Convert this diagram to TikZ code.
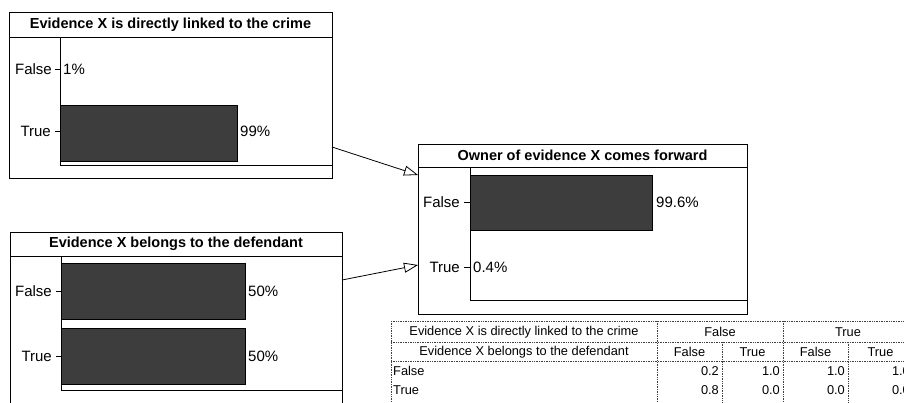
\documentclass[tikz,border=0pt]{standalone}
\usepackage{fontspec}
\setmainfont{Liberation Sans}
\usetikzlibrary{arrows.meta}
\tikzset{
  box/.style={draw=black, line width=0.9pt, minimum width=#1, inner sep=0pt, fill=white},
  ttl/.style={font=\fontsize{14.5}{17}\selectfont\bfseries, inner sep=0pt},
  lab/.style={font=\fontsize{15}{18}\selectfont, inner sep=0pt},
  axis/.style={draw=black, line width=0.9pt},
  bar/.style={fill=black!76, draw=black, line width=0.6pt},
  conn/.style={draw=black, line width=0.8pt, -{Triangle[open,length=14pt,width=10pt]}},
  tab/.style={font=\fontsize{12.8}{15}\selectfont, inner sep=0pt},
  grid/.style={draw=black!75, line width=0.7pt, densely dotted},
}
\begin{document}
\begin{tikzpicture}[x=1pt,y=-1pt]
\clip (0,0) rectangle (904,402);
\fill[white] (0,0) rectangle (904,402);

% ---------- Box 1 ----------
\node[box=323pt, minimum height=166pt, anchor=north west] (b1) at (9,12) {};
\draw[axis] (9,37) -- (332,37);
\node[ttl] (t1) at (170.5,24.5) {Evidence X is directly linked to the crime};
\draw[bar] (60,105) rectangle (237,161);
\draw[axis] (60,37) -- (60,165) -- (332,165);
\node[lab, anchor=east] (b1f) at (52,69) {False};
\draw[axis] (55,69) -- (60,69);
\node[lab, anchor=east] (b1t) at (51,131) {True};
\draw[axis] (55,131) -- (60,131);
\node[lab, anchor=west] (b1fp) at (63,69) {1\%};
\node[lab, anchor=west] (b1tp) at (240,131) {99\%};

% ---------- Box 2 ----------
\node[box=332pt, minimum height=200pt, anchor=north west] (b2) at (10,232) {};
\draw[axis] (10,256) -- (342,256);
\node[ttl] (t2) at (176,244) {Evidence X belongs to the defendant};
\draw[bar] (61,263) rectangle (245,319);
\draw[bar] (61,328) rectangle (245,384);
\draw[axis] (61,256) -- (61,390) -- (342,390);
\node[lab, anchor=east] (b2f) at (52,291) {False};
\draw[axis] (56,291) -- (61,291);
\node[lab, anchor=east] (b2t) at (52,356) {True};
\draw[axis] (56,356) -- (61,356);
\node[lab, anchor=west] (b2fp) at (248,291) {50\%};
\node[lab, anchor=west] (b2tp) at (248,356) {50\%};

% ---------- Box 3 ----------
\node[box=329pt, minimum height=170pt, anchor=north west] (b3) at (418,144) {};
\draw[axis] (418,167.5) -- (747,167.5);
\node[ttl] (t3) at (582.5,155.5) {Owner of evidence X comes forward};
\draw[bar] (470,175) rectangle (652,230);
\draw[axis] (470,167.5) -- (470,300) -- (747,300);
\node[lab, anchor=east] (b3f) at (460,202) {False};
\draw[axis] (464,202) -- (470,202);
\node[lab, anchor=east] (b3t) at (460,267) {True};
\draw[axis] (464,267) -- (470,267);
\node[lab, anchor=west] (b3fp) at (656,202) {99.6\%};
\node[lab, anchor=west] (b3tp) at (473,267) {0.4\%};

% ---------- Connectors ----------
\coordinate (a1s) at (332,147);
\coordinate (a1e) at (418,175);
\coordinate (a2s) at (342,280);
\coordinate (a2e) at (418,265);
\draw[conn] (a1s) -- (a1e);
\draw[conn] (a2s) -- (a2e);

% ---------- Table ----------
\draw[grid] (391,321) -- (913,321);
\draw[grid] (391,342) -- (913,342);
\draw[grid] (391,361) -- (913,361);
\draw[grid] (391,321) -- (391,402);
\draw[grid] (657,321) -- (657,402);
\draw[grid] (783,321) -- (783,402);
\draw[grid] (722,342) -- (722,402);
\draw[grid] (848,342) -- (848,402);
\node[tab] (h1) at (524,332) {Evidence X is directly linked to the crime};
\node[tab] (h2) at (524,352) {Evidence X belongs to the defendant};
\node[tab] (gF) at (720,332) {False};
\node[tab] (gT) at (848,332) {True};
\node[tab] (sF1) at (689.5,352) {False};
\node[tab] (sT1) at (752.5,352) {True};
\node[tab] (sF2) at (815.5,352) {False};
\node[tab] (sT2) at (880.5,352) {True};
\node[tab, anchor=west] (rF) at (393,371) {False};
\node[tab, anchor=west] (rT) at (393,390) {True};
\node[tab, anchor=east] (v11) at (719,371) {0.2};
\node[tab, anchor=east] (v12) at (780,371) {1.0};
\node[tab, anchor=east] (v13) at (845,371) {1.0};
\node[tab, anchor=east] (v14) at (910,371) {1.0};
\node[tab, anchor=east] (v21) at (719,390) {0.8};
\node[tab, anchor=east] (v22) at (780,390) {0.0};
\node[tab, anchor=east] (v23) at (845,390) {0.0};
\node[tab, anchor=east] (v24) at (910,390) {0.0};
\end{tikzpicture}
\end{document}
